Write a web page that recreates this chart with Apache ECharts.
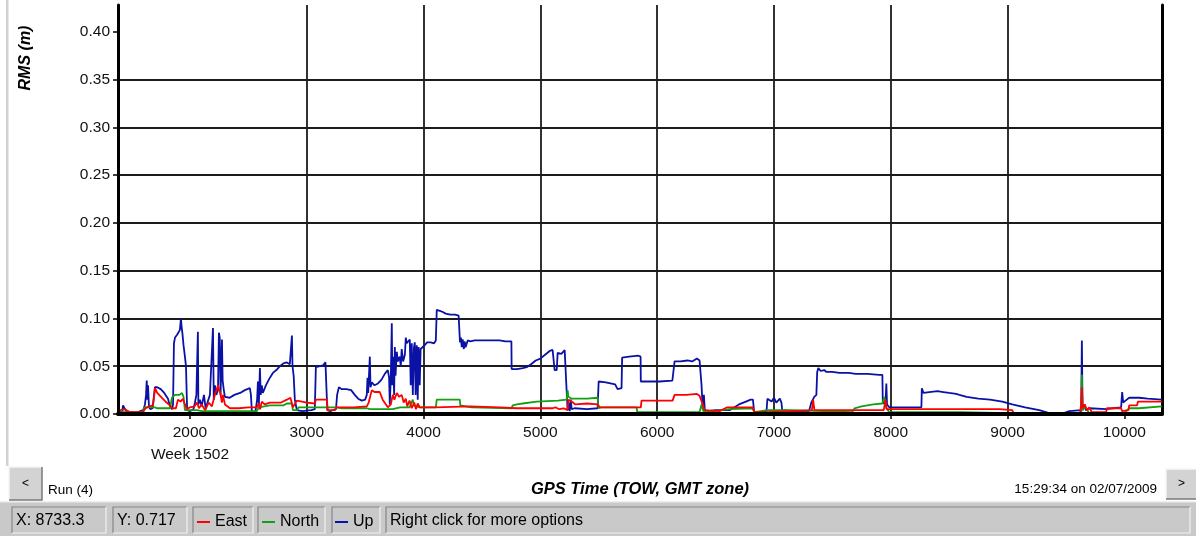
<!DOCTYPE html>
<html>
<head>
<meta charset="utf-8">
<title>RMS (m)</title>
<script src="https://cdn.jsdelivr.net/npm/echarts@6/dist/echarts.min.js"></script>
<style>
  html, body { margin: 0; padding: 0; background: #ffffff; }
  #chart { width: 1196px; height: 536px; }
</style>
</head>
<body>
<div id="chart"></div>
<script>
// GPS time of week (s) and RMS (m) for each position component
const UP_RMS = [
  [1400,0.002],[1420,0.003],[1427,0.009],[1440,0.006],[1460,0.002],[1540,0.001],[1575,0.003],[1600,0.004],
  [1615,0.010],[1624,0.020],[1630,0.035],[1636,0.015],[1641,0.030],[1649,0.008],[1660,0.005],[1680,0.006],
  [1700,0.028],[1720,0.028],[1750,0.026],[1780,0.022],[1812,0.016],[1829,0.008],[1846,0.005],[1855,0.010],
  [1863,0.074],[1872,0.080],[1880,0.078],[1890,0.083],[1900,0.084],[1914,0.088],[1923,0.100],[1928,0.092],
  [1935,0.085],[1945,0.072],[1957,0.060],[1966,0.050],[1974,0.048],[1976,0.004],[2000,0.003],[2030,0.005],
  [2043,0.012],[2055,0.020],[2066,0.022],[2068,0.086],[2072,0.010],[2086,0.015],[2100,0.008],[2120,0.020],
  [2135,0.005],[2150,0.012],[2171,0.020],[2188,0.022],[2197,0.090],[2204,0.015],[2214,0.030],[2225,0.020],
  [2240,0.025],[2248,0.085],[2255,0.080],[2262,0.020],[2274,0.078],[2280,0.035],[2290,0.025],[2299,0.018],
  [2340,0.017],[2380,0.020],[2430,0.022],[2470,0.025],[2513,0.027],[2522,0.020],[2530,0.003],[2560,0.002],
  [2575,0.015],[2582,0.034],[2590,0.010],[2599,0.048],[2606,0.020],[2615,0.030],[2624,0.022],[2650,0.030],
  [2680,0.037],[2710,0.043],[2740,0.046],[2770,0.050],[2800,0.053],[2830,0.054],[2855,0.052],[2865,0.050],
  [2873,0.082],[2878,0.050],[2888,0.040],[2898,0.015],[2915,0.004],[2960,0.003],[3040,0.004],[3069,0.005],
  [3078,0.049],[3095,0.047],[3112,0.050],[3140,0.051],[3160,0.054],[3172,0.056],[3176,0.004],[3200,0.003],
  [3250,0.005],[3260,0.020],[3275,0.028],[3300,0.026],[3340,0.026],[3380,0.025],[3411,0.020],[3440,0.016],
  [3471,0.014],[3500,0.015],[3514,0.020],[3520,0.038],[3526,0.022],[3540,0.060],[3546,0.028],[3557,0.033],
  [3580,0.030],[3610,0.032],[3640,0.036],[3668,0.042],[3694,0.046],[3705,0.038],[3711,0.010],[3720,0.040],
  [3728,0.095],[3733,0.030],[3740,0.060],[3748,0.020],[3754,0.070],[3760,0.040],[3771,0.065],[3780,0.055],
  [3796,0.060],[3805,0.050],[3813,0.068],[3825,0.055],[3840,0.062],[3848,0.080],[3856,0.074],[3870,0.072],
  [3882,0.078],[3890,0.030],[3899,0.074],[3908,0.020],[3918,0.070],[3925,0.075],[3932,0.020],[3942,0.072],
  [3950,0.015],[3958,0.070],[3967,0.030],[3975,0.068],[3985,0.070],[4010,0.072],[4030,0.075],[4060,0.075],
  [4090,0.074],[4105,0.077],[4113,0.109],[4139,0.108],[4160,0.107],[4190,0.105],[4230,0.104],[4270,0.104],
  [4300,0.103],[4310,0.103],[4312,0.075],[4320,0.080],[4327,0.070],[4335,0.078],[4345,0.068],[4352,0.076],
  [4360,0.070],[4378,0.077],[4400,0.076],[4438,0.077],[4500,0.077],[4560,0.077],[4650,0.077],[4700,0.076],
  [4752,0.076],[4754,0.047],[4800,0.047],[4850,0.048],[4883,0.049],[4920,0.052],[4960,0.056],[5000,0.058],
  [5040,0.062],[5080,0.066],[5105,0.067],[5115,0.066],[5122,0.046],[5140,0.046],[5148,0.064],[5180,0.063],
  [5208,0.067],[5225,0.066],[5233,0.004],[5240,0.012],[5251,0.003],[5260,0.015],[5268,0.005],[5293,0.006],
  [5400,0.005],[5490,0.006],[5499,0.034],[5560,0.033],[5640,0.031],[5661,0.026],[5695,0.027],[5700,0.059],
  [5760,0.060],[5840,0.061],[5858,0.060],[5860,0.034],[5940,0.034],[6020,0.034],[6130,0.035],[6140,0.037],
  [6149,0.055],[6200,0.055],[6260,0.056],[6300,0.055],[6340,0.058],[6363,0.056],[6380,0.030],[6390,0.005],
  [6400,0.020],[6408,0.004],[6440,0.003],[6500,0.004],[6620,0.004],[6700,0.010],[6760,0.013],[6800,0.015],
  [6820,0.015],[6830,0.002],[6900,0.002],[6936,0.003],[6944,0.016],[6980,0.013],[7000,0.017],[7020,0.012],
  [7050,0.016],[7064,0.012],[7070,0.004],[7150,0.003],[7300,0.003],[7320,0.012],[7345,0.018],[7363,0.020],
  [7370,0.044],[7380,0.048],[7400,0.045],[7430,0.046],[7449,0.044],[7500,0.044],[7560,0.043],[7640,0.043],
  [7700,0.042],[7800,0.042],[7900,0.041],[7928,0.041],[7932,0.011],[7955,0.012],[7962,0.032],[7968,0.010],
  [7988,0.007],[8100,0.007],[8200,0.007],[8262,0.007],[8266,0.027],[8280,0.022],[8330,0.023],[8400,0.024],
  [8450,0.023],[8500,0.022],[8560,0.021],[8587,0.020],[8650,0.018],[8750,0.016],[8850,0.015],[8955,0.013],
  [9040,0.010],[9150,0.007],[9271,0.004],[9357,0.001],[9480,0.001],[9528,0.003],[9630,0.004],[9636,0.077],
  [9642,0.004],[9656,0.010],[9670,0.004],[9700,0.006],[9844,0.005],[9900,0.006],[9972,0.007],[9981,0.023],
  [9990,0.012],[10010,0.014],[10041,0.017],[10126,0.017],[10200,0.016],[10320,0.015]
];

const EAST_RMS = [
  [1400,0.004],[1420,0.004],[1440,0.005],[1487,0.002],[1598,0.002],[1620,0.006],[1650,0.008],[1684,0.009],
  [1701,0.027],[1720,0.022],[1760,0.017],[1800,0.012],[1829,0.009],[1850,0.006],[1880,0.006],[1897,0.015],
  [1920,0.013],[1940,0.016],[1957,0.010],[1974,0.005],[2000,0.007],[2040,0.008],[2060,0.012],[2077,0.006],
  [2100,0.010],[2130,0.004],[2160,0.012],[2188,0.008],[2214,0.020],[2240,0.030],[2250,0.032],[2260,0.022],
  [2274,0.012],[2282,0.020],[2300,0.010],[2342,0.006],[2420,0.006],[2500,0.007],[2573,0.007],[2590,0.011],
  [2600,0.005],[2615,0.013],[2640,0.010],[2684,0.012],[2780,0.012],[2830,0.015],[2860,0.017],[2873,0.017],
  [2881,0.007],[2898,0.006],[2915,0.014],[2960,0.013],[3000,0.012],[3069,0.011],[3078,0.015],[3172,0.015],
  [3180,0.004],[3240,0.004],[3257,0.007],[3400,0.007],[3514,0.008],[3530,0.012],[3557,0.025],[3580,0.023],
  [3625,0.023],[3650,0.015],[3694,0.007],[3720,0.010],[3736,0.020],[3750,0.015],[3771,0.022],[3790,0.018],
  [3813,0.020],[3830,0.012],[3848,0.016],[3860,0.008],[3880,0.014],[3899,0.006],[3920,0.012],[3935,0.005],
  [3950,0.011],[3967,0.007],[4100,0.007],[4113,0.008],[4400,0.008],[4652,0.007],[4800,0.006],[5000,0.006],
  [5105,0.006],[5130,0.007],[5160,0.005],[5200,0.006],[5233,0.004],[5240,0.015],[5268,0.013],[5300,0.010],
  [5400,0.011],[5490,0.010],[5507,0.007],[5700,0.007],[5860,0.007],[5866,0.014],[6000,0.014],[6132,0.014],
  [6149,0.020],[6250,0.020],[6340,0.021],[6363,0.019],[6390,0.010],[6405,0.004],[6422,0.002],[6534,0.003],
  [6600,0.007],[6816,0.007],[6833,0.002],[6936,0.002],[6944,0.004],[7325,0.004],[7335,0.015],[7346,0.004],
  [7940,0.004],[7955,0.015],[7965,0.005],[8500,0.005],[8930,0.005],[9040,0.004],[9050,0.001],[9620,0.001],
  [9630,0.010],[9636,0.028],[9642,0.006],[9660,0.010],[9680,0.004],[9700,0.007],[9720,0.002],[9844,0.002],
  [9850,0.006],[9972,0.006],[9981,0.003],[10035,0.004],[10041,0.009],[10109,0.009],[10115,0.013],[10320,0.013]
];

const NORTH_RMS = [
  [1400,0.002],[1598,0.002],[1610,0.007],[1700,0.007],[1718,0.006],[1830,0.006],[1846,0.017],[1872,0.020],
  [1910,0.020],[1932,0.022],[1945,0.018],[1957,0.004],[2060,0.004],[2100,0.003],[2573,0.003],[2590,0.007],
  [2684,0.009],[2800,0.009],[2830,0.011],[2873,0.011],[2881,0.004],[2915,0.004],[2930,0.007],[3257,0.007],
  [3300,0.006],[3514,0.006],[3540,0.005],[3736,0.005],[3800,0.007],[3880,0.007],[3908,0.015],[3918,0.009],
  [3967,0.007],[4105,0.007],[4113,0.015],[4310,0.015],[4315,0.009],[4330,0.008],[4412,0.007],[4754,0.006],
  [4763,0.009],[4800,0.010],[4850,0.011],[4968,0.013],[5150,0.014],[5225,0.015],[5233,0.025],[5240,0.018],
  [5268,0.016],[5400,0.016],[5490,0.017],[5499,0.006],[5520,0.007],[5824,0.007],[5830,0.002],[6363,0.002],
  [6380,0.010],[6395,0.003],[6420,0.002],[6619,0.005],[6816,0.006],[6833,0.002],[6944,0.004],[7149,0.004],
  [7160,0.002],[7671,0.002],[7690,0.006],[7750,0.008],[7850,0.010],[7928,0.011],[7945,0.018],[7962,0.006],
  [7988,0.002],[8600,0.002],[9000,0.001],[9630,0.001],[9636,0.041],[9642,0.004],[9660,0.008],[9699,0.001],
  [9998,0.001],[10041,0.006],[10126,0.006],[10140,0.008],[10320,0.008]
];

const X_TICKS = [2000, 3000, 4000, 5000, 6000, 7000, 8000, 9000, 10000];
const Y_TICKS = [0, 0.05, 0.10, 0.15, 0.20, 0.25, 0.30, 0.35, 0.40];
const WEEK_LABEL = 'Week 1502';
const RUN_LABEL = 'Run (4)';
const STAMP_LABEL = '15:29:34 on 02/07/2009';
const CURSOR_X = 'X: 8733.3';
const CURSOR_Y = 'Y: 0.717';
const HINT = 'Right click for more options';

const FONT = '"Liberation Sans", Arial, sans-serif';
const X_MIN = 1384, X_MAX = 10322;
const Y_MIN = 0, Y_MAX = 0.428;

const C_UP = '#0a12a6', C_EAST = '#ff0000', C_NORTH = '#12a012';
const GRID_COLOR = '#1c1c1c';
const PANEL = '#c9c9c9';

const chart = echarts.init(document.getElementById('chart'), null, { renderer: 'canvas' });

// sunken status-bar cell
function cell(x, w) {
  const y = 507, h = 26;
  return [
    { type: 'rect', shape: { x: x, y: y, width: w, height: h }, style: { fill: PANEL }, z: 100 },
    { type: 'polyline', shape: { points: [[x, y + h], [x, y], [x + w, y]] },
      style: { stroke: '#858585', lineWidth: 1.2, fill: null }, z: 101 },
    { type: 'polyline', shape: { points: [[x + w, y], [x + w, y + h], [x, y + h]] },
      style: { stroke: '#f2f2f2', lineWidth: 1.2, fill: null }, z: 101 }
  ];
}

// raised push button
function button(x, y, w, h, label) {
  return [
    { type: 'rect', shape: { x: x, y: y, width: w, height: h }, style: { fill: '#d3d3d3' }, z: 100 },
    { type: 'polyline', shape: { points: [[x, y + h], [x, y], [x + w, y]] },
      style: { stroke: '#f6f6f6', lineWidth: 1.5, fill: null }, z: 101 },
    { type: 'polyline', shape: { points: [[x + w, y], [x + w, y + h], [x, y + h]] },
      style: { stroke: '#7a7a7a', lineWidth: 1.5, fill: null }, z: 101 },
    { type: 'text', x: x + w / 2, y: y + h / 2,
      style: { text: label, font: '12px ' + FONT, fill: '#000', align: 'center', verticalAlign: 'middle' }, z: 102 }
  ];
}

const graphics = [].concat(
  // window edge on the left
  [{ type: 'rect', shape: { x: 6, y: 0, width: 2.5, height: 466 }, style: { fill: '#d2d2d2' }, z: 90 }],
  // vertical axis title
  [{ type: 'text', x: 26, y: 58, rotation: Math.PI / 2,
     style: { text: 'RMS (m)', font: 'italic bold 16px ' + FONT, fill: '#000', align: 'center', verticalAlign: 'middle' }, z: 90 }],
  button(9, 467, 33, 33, '<'),
  button(1166, 469, 31, 30, '>'),
  [
    { type: 'text', x: 48, y: 490, style: { text: RUN_LABEL, font: '13.5px ' + FONT, fill: '#000', verticalAlign: 'middle' }, z: 90 },
    { type: 'text', x: 1157, y: 489, style: { text: STAMP_LABEL, font: '13.5px ' + FONT, fill: '#000', align: 'right', verticalAlign: 'middle' }, z: 90 },
    // status bar
    { type: 'rect', shape: { x: 0, y: 502, width: 1196, height: 34 }, style: { fill: PANEL }, z: 95 },
    { type: 'rect', shape: { x: 0, y: 501, width: 1196, height: 1.5 }, style: { fill: '#eeeeee' }, z: 96 }
  ],
  cell(12, 94), cell(113, 74), cell(193, 60), cell(258, 67), cell(332, 48), cell(386, 804),
  [
    { type: 'text', x: 16, y: 521, style: { text: CURSOR_X, font: '16px ' + FONT, fill: '#000', verticalAlign: 'middle' }, z: 110 },
    { type: 'text', x: 117, y: 521, style: { text: CURSOR_Y, font: '16px ' + FONT, fill: '#000', verticalAlign: 'middle' }, z: 110 },
    { type: 'text', x: 390, y: 521, style: { text: HINT, font: '16px ' + FONT, fill: '#000', verticalAlign: 'middle' }, z: 110 }
  ]
);

function legendAt(name, left) {
  return {
    data: [name], left: left, top: 514, padding: 0, icon: 'rect',
    itemWidth: 13, itemHeight: 2, selectedMode: false, z: 120,
    textStyle: { fontSize: 16, fontFamily: FONT, color: '#000', padding: [0, 0, 0, 0] }
  };
}

const isMultiple = (v, step) => Math.abs(v / step - Math.round(v / step)) < 1e-6;

chart.setOption({
  animation: false,
  backgroundColor: '#ffffff',
  grid: { left: 118, right: 34, top: 5, bottom: 122, containLabel: false },
  legend: [legendAt('East', 197), legendAt('North', 262), legendAt('Up', 335)],
  xAxis: [{
    type: 'value', min: X_MIN, max: X_MAX, splitNumber: 9,
    axisLine: { show: false },
    axisTick: { show: true, customValues: X_TICKS, length: 5, lineStyle: { color: '#000', width: 1.5 } },
    axisLabel: {
      margin: 8, fontSize: 15.5, fontFamily: FONT, color: '#111', lineHeight: 22,
      formatter: function (v) {
        if (!isMultiple(v, 1000)) return '';
        return v === X_TICKS[0] ? v + '\n' + WEEK_LABEL : String(v);
      }
    },
    splitLine: { show: true, showMinLine: false, showMaxLine: false, lineStyle: { color: GRID_COLOR, width: 1.8 } },
    name: 'GPS Time (TOW, GMT zone)', nameLocation: 'middle', nameGap: 67,
    nameTextStyle: { fontFamily: FONT, fontSize: 16.5, fontWeight: 'bold', fontStyle: 'italic', color: '#000' }
  }, {
    // heavy base line drawn above the traces
    type: 'value', min: X_MIN, max: X_MAX, position: 'bottom', z: 5,
    axisLine: { show: true, onZero: false, lineStyle: { color: '#000', width: 4 } },
    axisTick: { show: false }, axisLabel: { show: false }, splitLine: { show: false }
  }],
  yAxis: [{
    type: 'value', min: Y_MIN, max: Y_MAX, interval: 0.05, position: 'left',
    axisLine: { show: true, onZero: false, lineStyle: { color: '#000', width: 3 } },
    axisTick: { show: true, customValues: Y_TICKS, length: 5, lineStyle: { color: '#000', width: 1.5 } },
    axisLabel: {
      margin: 8, fontSize: 15.5, fontFamily: FONT, color: '#111', showMaxLabel: false,
      formatter: function (v) { return isMultiple(v, 0.05) ? v.toFixed(2) : ''; }
    },
    splitLine: { show: true, showMinLine: false, showMaxLine: false, lineStyle: { color: GRID_COLOR, width: 1.8 } }
  }, {
    // right frame
    type: 'value', min: 0, max: 1, position: 'right',
    axisLine: { show: true, onZero: false, lineStyle: { color: '#000', width: 3 } },
    axisTick: { show: false }, axisLabel: { show: false }, splitLine: { show: false }
  }],
  series: [
    { name: 'Up', type: 'line', data: UP_RMS, symbol: 'none', showSymbol: false,
      lineStyle: { color: C_UP, width: 1.8 }, itemStyle: { color: C_UP }, z: 2 },
    { name: 'North', type: 'line', data: NORTH_RMS, symbol: 'none', showSymbol: false,
      lineStyle: { color: C_NORTH, width: 1.8 }, itemStyle: { color: C_NORTH }, z: 3 },
    { name: 'East', type: 'line', data: EAST_RMS, symbol: 'none', showSymbol: false,
      lineStyle: { color: C_EAST, width: 1.8 }, itemStyle: { color: C_EAST }, z: 4 }
  ],
  graphic: graphics
});
</script>
</body>
</html>
